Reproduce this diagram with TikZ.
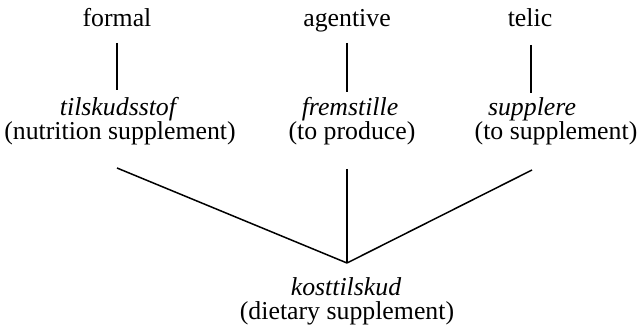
\documentclass[tikz,border=0pt]{standalone}
\usepackage{fontspec}
\setmainfont{Liberation Serif}
\begin{document}
\begin{tikzpicture}[x=1pt,y=-1pt,
  lbl/.style={anchor=base,inner sep=0pt,font=\fontsize{25.8}{28}\selectfont},
  dan/.style={lbl,font=\fontsize{25.8}{28}\selectfont\itshape},
  conn/.style={line width=1.5pt,line cap=butt}]
\useasboundingbox (0,0) rectangle (640,334);
% top labels
\node[lbl] (formal) at (117,27) {formal};
\node[lbl] (agent) at (347,27) {agentive};
\node[lbl] (telic) at (530,27) {telic};
% middle words
\node[dan] (tils) at (118,116) {tilskudsstof};
\node[lbl] (nut) at (120,140) {(nutrition supplement)};
\node[dan] (frem) at (350,116) {fremstille};
\node[lbl] (prod) at (352,140) {(to produce)};
\node[dan] (supp) at (532,116) {supplere};
\node[lbl] (tosupp) at (556,140) {(to supplement)};
% bottom
\node[dan] (kost) at (346,295) {kosttilskud};
\node[lbl] (diet) at (347,319) {(dietary supplement)};
% vertical connectors
\draw[conn] ([yshift=-16pt]formal.base) -- ([xshift=-1pt,yshift=26pt]tils.base);
\draw[conn] ([yshift=-16pt]agent.base) -- ([xshift=-3pt,yshift=24pt]frem.base);
\draw[conn] ([xshift=1pt,yshift=-18pt]telic.base) -- ([xshift=-1pt,yshift=23pt]supp.base);
% converging connectors
\coordinate (v) at ([xshift=1pt,yshift=32pt]kost.base);
\draw[conn] ([xshift=-3pt,yshift=-28pt]nut.base) -- (v);
\draw[conn] ([xshift=-5pt,yshift=-29pt]prod.base) -- (v);
\draw[conn] ([xshift=-24pt,yshift=-30pt]tosupp.base) -- (v);
\end{tikzpicture}
\end{document}
